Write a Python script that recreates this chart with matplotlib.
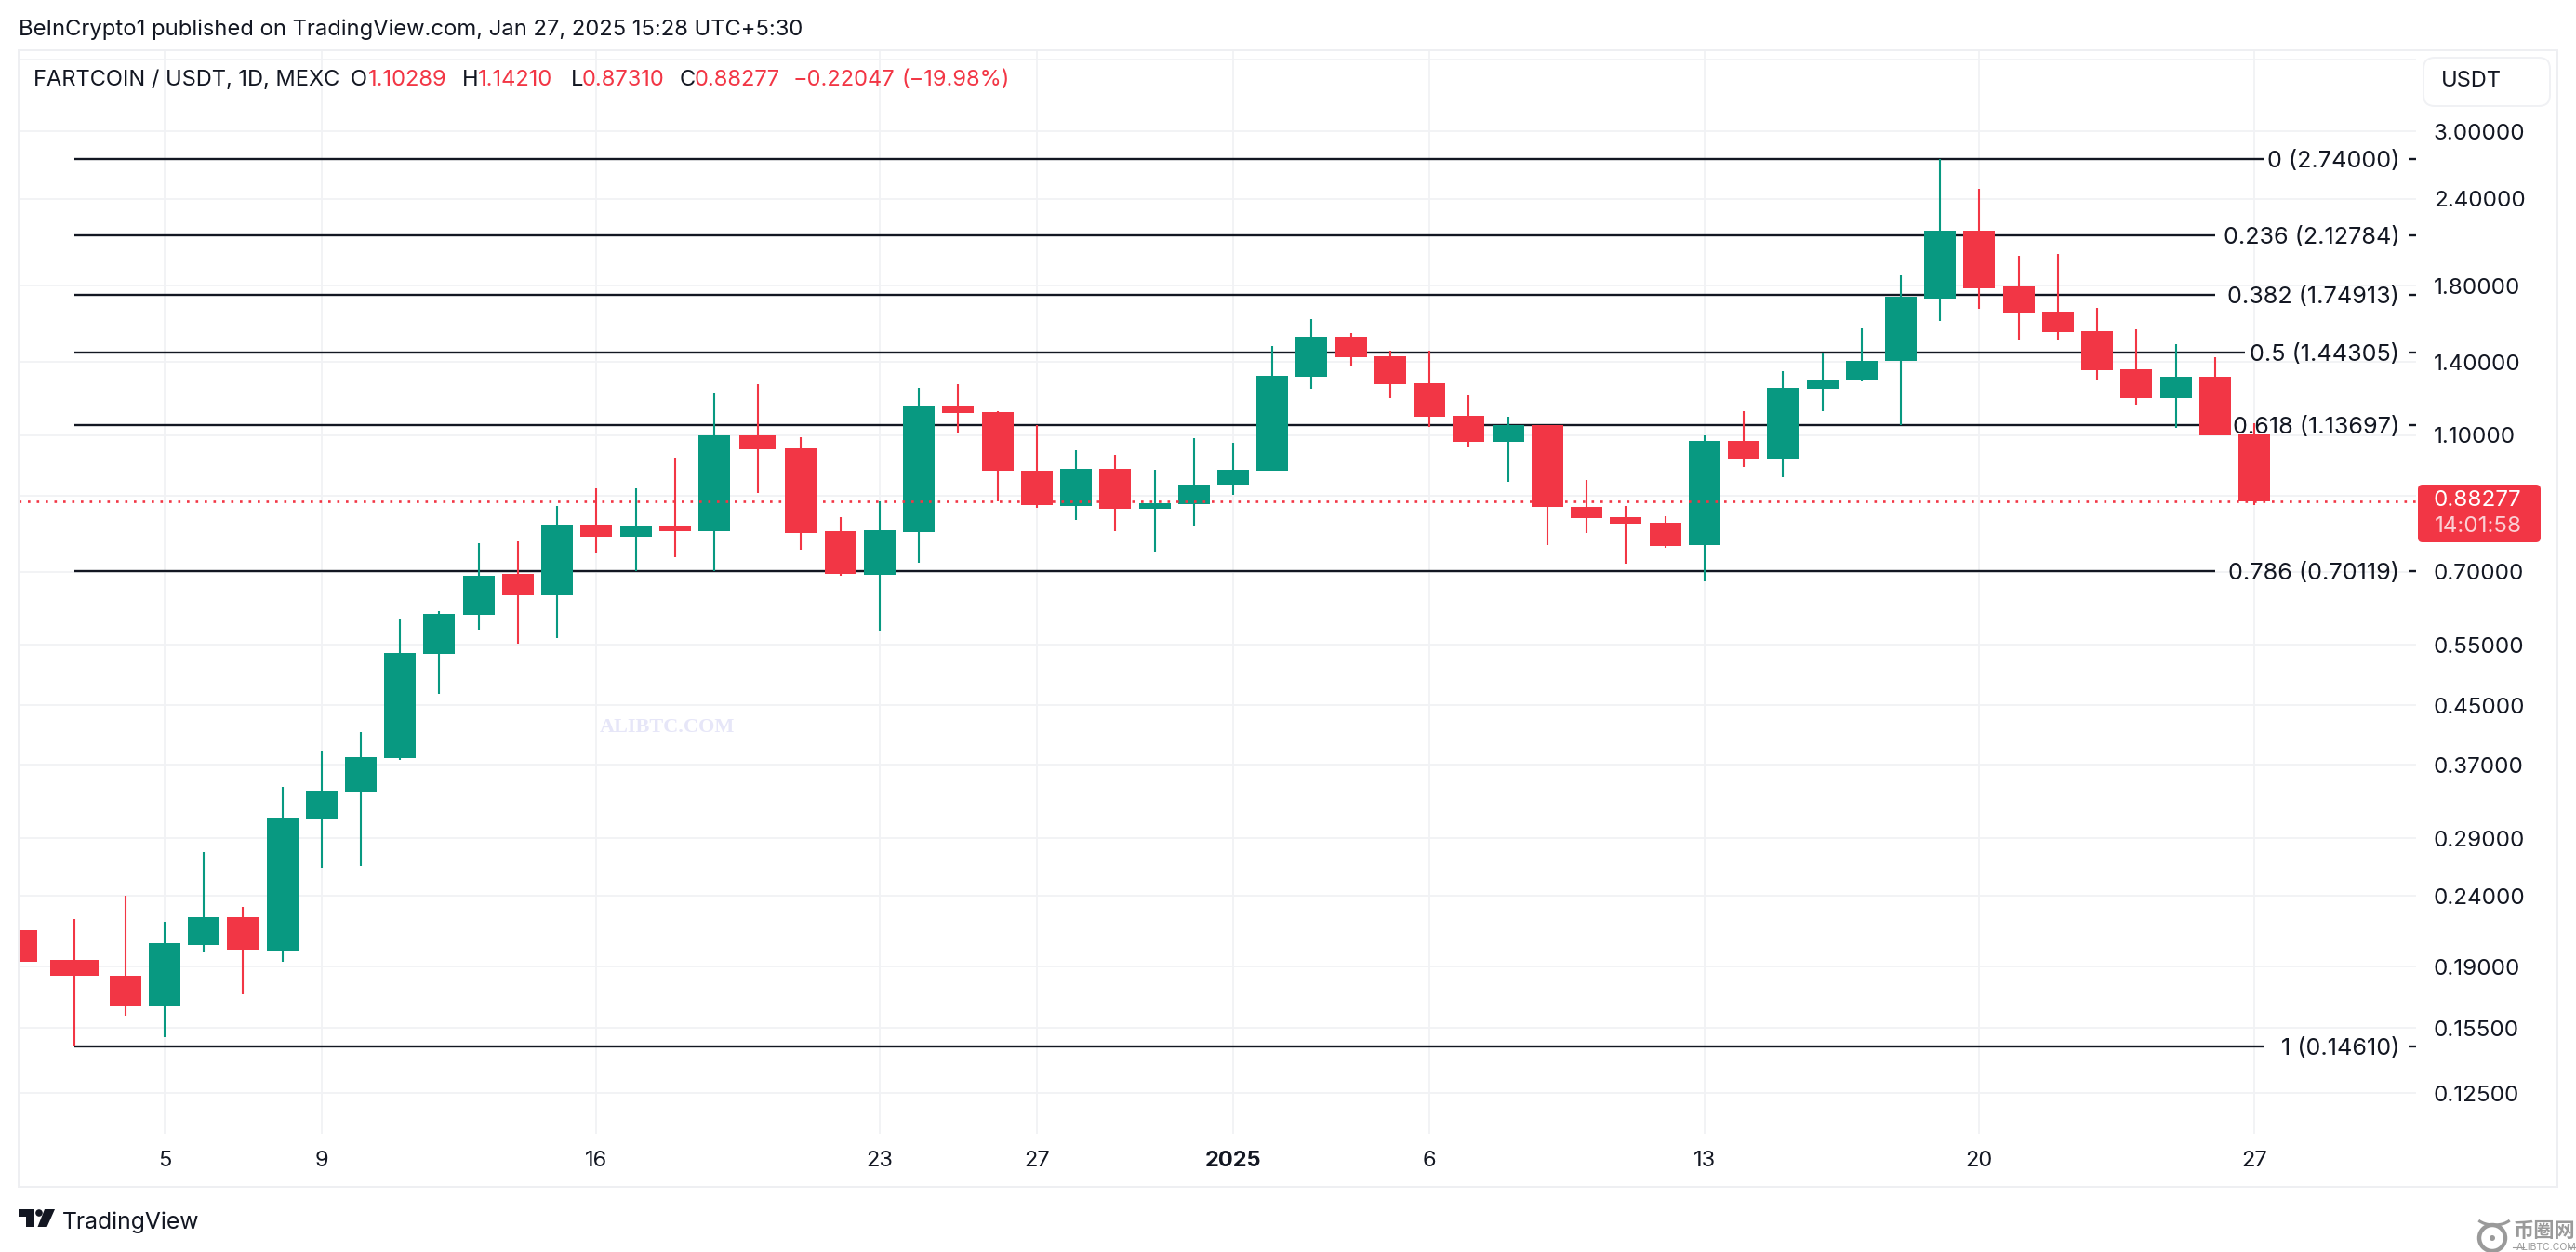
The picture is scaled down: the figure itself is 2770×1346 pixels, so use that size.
import matplotlib
matplotlib.use('Agg')
from matplotlib import pyplot as plt
from matplotlib.patches import Rectangle, FancyBboxPatch, Polygon, Circle, Arc
from matplotlib.ticker import NullLocator

W, H = 2770, 1346

# candle position in days after Dec 5
days = [-3.63, -2.29, -0.99, 0, 0.99, 1.99, 3.00, 3.99, 4.98, 5.97,
        6.96, 7.97, 8.96, 9.96, 10.95, 11.96, 12.95, 13.94, 15.04, 16.13,
        17.15, 18.13, 19.13, 20.12, 21.13, 22.12, 23.11, 24.11, 25.12, 26.11,
        27.10, 28.09, 29.08, 30.10, 31.09, 32.08, 33.07, 34.08, 35.08, 36.07,
        37.06, 38.07, 39.06, 40.05, 41.04, 42.06, 43.05, 44.04, 45.03, 46.02,
        47.03, 48.02, 49.01, 50.00, 51.02, 52.01, 53.00]
opens = [.2145, .1944, .1845, .1667, .2042, .2239, .2005, .3093, .3372, .3778,
         .5332, .6072, .6946, .6471, .8175, .7855, .8150, .8000, 1.0980, 1.0519,
         .8000, .6925, .7976, 1.2115, 1.1858, .9768, .8696, .9832, .8612, .8756,
         .9330, .9768, 1.3329, 1.5210, 1.4262, 1.3043, 1.1713, 1.0748, 1.1358, .8665,
         .8378, .8225, .7640, 1.0781, 1.0169, 1.2806, 1.3164, 1.4043, 1.7253, 2.1592,
         1.7956, 1.6527, 1.5494, 1.3659, 1.2418, 1.3329, 1.10289]
highs = [.2145, .2226, .2397, .2199, .2769, .2316, .3434, .3872, .4118, .5992,
         .6141, .7688, .7735, .8693, .9217, .9217, 1.0200, 1.2610, 1.3003, 1.0914,
         .8378, .8828, 1.2844, 1.3003, 1.1895, 1.1358, 1.0452, 1.0294, .9800, 1.0880,
         1.0720, 1.4750, 1.6110, 1.5398, 1.4530, 1.4530, 1.2533, 1.1677, 1.1358, .9476,
         .8693, .8404, 1.0980, 1.1895, 1.3575, 1.4436, 1.5637, 1.8633, 2.74, 2.4795,
         1.9875, 1.9996, 1.6730, 1.5589, 1.4841, 1.4220, 1.1421]
lows = [.1932, .1461, .1617, .1506, .1992, .1735, .1927, .2628, .2652, .3755,
        .4671, .5778, .5515, .5625, .7456, .7010, .7340, .7010, .9075, .7524,
        .6903, .5757, .7206, 1.1083, .8828, .8639, .8301, .8000, .7478, .8125,
        .9020, .9768, 1.2806, 1.3790, 1.2418, 1.1289, 1.0550, .9417, .7640, .7951,
        .7184, .7570, .6777, .9891, .9562, 1.1895, 1.3124, 1.1358, 1.6026, 1.6680,
        1.5020, 1.5020, 1.3164, 1.2154, 1.1254, 1.0980, .8731]
closes = [.1932, .1845, .1672, .2049, .2239, .2011, .3103, .3392, .3790, .5348,
          .6085, .6903, .6471, .8175, .7855, .8150, .8000, 1.0980, 1.0485, .7951,
          .6946, .8025, 1.2115, 1.1822, .9768, .8723, .9832, .8612, .8774, .9330,
          .9800, 1.3370, 1.5210, 1.4220, 1.3003, 1.1677, 1.0748, 1.1358, .8665, .8352,
          .8200, .7616, 1.0781, 1.0169, 1.2844, 1.3205, 1.4043, 1.7359, 2.1592, 1.7846,
          1.6476, 1.5446, 1.3617, 1.2418, 1.3329, 1.0980, .88277]

price_ticks = [3.8, 3.0, 2.4, 1.8, 1.4, 1.1, 0.9, 0.7, 0.55, 0.45, 0.37, 0.29, 0.24, 0.19, 0.155, 0.125]
price_labels = ['', '3.00000', '2.40000', '1.80000', '1.40000', '1.10000', '', '0.70000',
                '0.55000', '0.45000', '0.37000', '0.29000', '0.24000', '0.19000', '0.15500', '0.12500']
date_ticks = [0, 3.99, 10.95, 18.13, 22.12, 27.10, 32.08, 39.06, 46.02, 53.00]
date_labels = ['5', '9', '16', '23', '27', '2025', '6', '13', '20', '27']
fib_ratios = ['0', '0.236', '0.382', '0.5', '0.618', '0.786', '1']
fib_prices = [2.74, 2.12784, 1.74913, 1.44305, 1.13697, 0.70119, 0.1461]
last_price = 0.88277

GREEN = '#089981'
RED = '#F23645'
INK = '#131722'
GRID = '#F1F2F5'
plt.rcParams['font.family'] = ['Inter', 'Noto Sans CJK SC', 'DejaVu Sans']


def fx(x):
    return x / W


def fy(y):
    return 1 - y / H


def ftext(x, y, s, **kw):
    kw.setdefault('color', INK)
    kw.setdefault('fontsize', 17)
    kw.setdefault('va', 'center')
    return fig.text(fx(x), fy(y), s, **kw)


def fpoly(points, **kw):
    fig.add_artist(Polygon([(fx(a), fy(b)) for a, b in points], closed=True,
                           transform=fig.transFigure, **kw))


fig = plt.figure(figsize=(W / 100, H / 100), dpi=100, facecolor='white')
ax = fig.add_axes([fx(20), fy(1219), fx(2598 - 20), (1219 - 54) / H])
ax.set_yscale('log')
ax.set_xlim(-3.698, 57.10)
ax.set_ylim(0.1093, 3.92)
for s in ax.spines.values():
    s.set_visible(False)

ax.yaxis.tick_right()
ax.yaxis.set_minor_locator(NullLocator())
ax.set_yticks(price_ticks, price_labels)
ax.set_xticks(date_ticks, date_labels)
ax.tick_params(axis='y', length=0, pad=13.5, labelsize=17.4, labelcolor=INK)
ax.tick_params(axis='x', length=0, pad=13, labelsize=17, labelcolor=INK)
ax.get_xticklabels()[5].set_fontweight('bold')
ax.grid(True, color=GRID, linewidth=1.3, zorder=0)
ax.set_axisbelow(True)

# fib levels, each line stops before its label
fib_ends = [53.24, 52.0, 52.0, 52.76, 52.0, 52.0, 53.24]
for ratio, price, end in zip(fib_ratios, fib_prices, fib_ends):
    ax.plot([-2.29, end], [price, price], color=INK, lw=1.7, zorder=2, solid_capstyle='butt')
    ax.text(56.68, price, f'{ratio} ({price:.5f})', ha='right', va='center_baseline',
            fontsize=18.1, color=INK, zorder=2)
    ax.plot([56.92, 57.10], [price, price], color=INK, lw=1.7, zorder=2, solid_capstyle='butt')

# candles
colors = [GREEN if c > o else RED for o, c in zip(opens, closes)]
widths = [0.8] * len(days)
widths[1] = 1.22
widths[18] = 0.94
ax.vlines(days, lows, highs, colors=colors, linewidth=1.5, zorder=3)
ax.bar(days, [abs(c - o) for o, c in zip(opens, closes)],
       bottom=[min(o, c) for o, c in zip(opens, closes)],
       width=widths, color=colors, linewidth=0, zorder=4)
ax.axhline(last_price, color=RED, lw=1.9, ls=(0, (1, 2.6)), zorder=5)

# outer frame and header
fig.add_artist(Rectangle((fx(20), fy(1276)), fx(2730), (1276 - 54) / H, transform=fig.transFigure,
                         fill=False, edgecolor='#EEEFF2', lw=1.4))
ftext(20, 32, 'BeInCrypto1 published on TradingView.com, Jan 27, 2025 15:28 UTC+5:30', fontsize=17.1)
ftext(36, 86, 'FARTCOIN / USDT, 1D, MEXC')
for x, s in [(377, 'O'), (497, 'H'), (614, 'L'), (731, 'C')]:
    ftext(x, 86, s)
for x, s in [(396, '1.10289'), (514, '1.14210'), (626, '0.87310'), (747, '0.88277'),
             (853, '\u22120.22047'), (970, '(\u221219.98%)')]:
    ftext(x, 86, s, color=RED)

# USDT button
fig.add_artist(FancyBboxPatch((2610, H - 110), 128, 44, boxstyle='round,pad=4,rounding_size=12',
                              transform=None, facecolor='white', edgecolor='#F0F1F4', lw=1.4))
ftext(2625, 87, 'USDT')

# last price tag
fig.add_artist(FancyBboxPatch((2602, H - 581), 128, 58, boxstyle='round,pad=2,rounding_size=5',
                              transform=None, facecolor=RED, edgecolor='none'))
ftext(2617, 538, '0.88277', color='white', fontsize=17.4)
ftext(2618, 566, '14:01:58', color='#FBD0D4', fontsize=17.4)

# watermark
ftext(645, 782, 'ALIBTC.COM', family='Liberation Serif', fontweight='bold', fontsize=16,
      color='#E6E6F8')

# TradingView logo
fpoly([(20, 1300), (37, 1300), (37, 1319), (28, 1319), (28, 1308), (20, 1308)], color=INK, lw=0)
fig.add_artist(Circle((42, H - 1304), 3.8, transform=None, color=INK, lw=0))
fpoly([(48, 1300), (59, 1300), (50.5, 1319), (40.5, 1319)], color=INK, lw=0)
ftext(67, 1321, 'TradingView', va='baseline', fontsize=17.8)

# site mark, bottom right
MARK = '#9A9A9A'
fig.add_artist(Circle((2680, H - 1331), 14, transform=None, fill=False, edgecolor=MARK, lw=3.2))
fig.add_artist(Circle((2680, H - 1331), 3, transform=None, color=MARK, lw=0))
fig.add_artist(Arc((2682, H - 1306), 40, 22, theta1=200, theta2=340, transform=None,
                   edgecolor=MARK, lw=2.2))
ftext(2702, 1323, '币圈网', family='Noto Sans CJK SC', fontweight='bold', fontsize=16, color=MARK)
ftext(2738, 1341, 'ALIBTC.COM', fontsize=7.5, color=MARK, ha='center')
fig.add_artist(plt.Line2D([fx(2702), fx(2714)], [fy(1341), fy(1341)], color=MARK, lw=0.8))
fig.add_artist(plt.Line2D([fx(2762), fx(2770)], [fy(1341), fy(1341)], color=MARK, lw=0.8))

fig.savefig('out.png', dpi=100)
